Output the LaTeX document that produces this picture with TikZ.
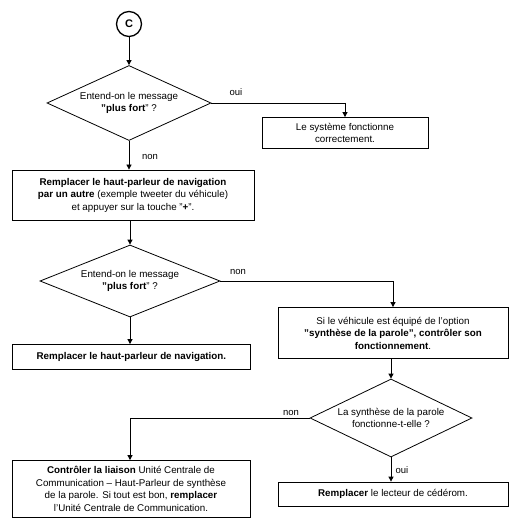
\documentclass[tikz,border=0pt]{standalone}
\usepackage{fontspec}
\setmainfont{Liberation Sans}
\usetikzlibrary{shapes.geometric,arrows.meta}
\begin{document}
\begin{tikzpicture}[x=1pt,y=-1pt,
  every node/.style={font=\fontsize{9.8}{12.5}\selectfont},
  box/.style={draw,line width=0.8pt,align=center,inner sep=2pt},
  dia/.style={draw,diamond,line width=0.8pt,inner sep=0pt},
  dtxt/.style={align=center,inner sep=0pt},
  lab/.style={font=\fontsize{9.5}{11}\selectfont},
  ar/.style={line width=0.8pt,-{Triangle[length=5pt,width=5pt]}},
  ln/.style={line width=0.8pt}]
\useasboundingbox (0,0) rectangle (514,529);
\node[circle,draw,line width=1.3pt,minimum size=25pt,inner sep=0pt,font=\bfseries\fontsize{11}{12}\selectfont] (c) at (129,24) {C};
\node[dia,minimum width=164pt,minimum height=75pt] (d1) at (129,103) {};
\node[dtxt] (t1) at (129,103) {Entend-on le message\\\textbf{"plus fort}" ?};
\node[box,minimum width=166pt,minimum height=31pt] (b1) at (345,133) {Le système fonctionne\\correctement.};
\node[box,minimum width=242pt,minimum height=50pt] (b2) at (133,195) {\textbf{Remplacer le haut-parleur de navigation}\\\textbf{par un autre} (exemple tweeter du véhicule)\\et appuyer sur la touche "\textbf{+}".};
\node[dia,minimum width=180pt,minimum height=72pt] (d2) at (130,281) {};
\node[dtxt] (t2) at (130,281) {Entend-on le message\\\textbf{"plus fort}" ?};
\node[box,minimum width=238pt,minimum height=25pt,anchor=west] (b4) at (12,357) {\textbf{Remplacer le haut-parleur de navigation.}};
\node[box,minimum width=230pt,minimum height=51pt] (b3) at (393,333) {Si le véhicule est équipé de l'option\\\textbf{"synthèse de la parole", contrôler son}\\\textbf{fonctionnement}.};
\node[dia,minimum width=162pt,minimum height=78pt] (d3) at (391,418) {};
\node[dtxt] (t3) at (391,418) {La synthèse de la parole\\fonctionne-t-elle ?};
\node[box,minimum width=238pt,minimum height=57pt] (b5) at (131,489) {\textbf{Contrôler la liaison} Unité Centrale de\\Communication -- Haut-Parleur de synthèse\\de la parole. Si tout est bon, \textbf{remplacer}\\l'Unité Centrale de Communication.};
\node[box,minimum width=230pt,minimum height=24pt] (b6) at (393,494) {\textbf{Remplacer} le lecteur de cédérom.};
\coordinate (k1) at (345,103);
\coordinate (k2) at (393,281);
\coordinate (k3) at (130,422);
\draw[ar] (c) -- (d1);
\draw[ln] (d1.east) -- (k1);
\draw[ar] (k1) -- (b1.north);
\node[lab] (oui1) at (236,92) {oui};
\draw[ar] (d1.south) -- (b2.north -| d1.south);
\node[lab] (non1) at (150,157) {non};
\draw[ar] (b2.south -| d2.north) -- (d2.north);
\draw[ar] (d2.south) -- (d2.south |- b4.north);
\draw[ln] (d2.east) -- (k2);
\draw[ar] (k2) -- (b3.north);
\node[lab] (non2) at (238,272) {non};
\draw[ar] (b3.south -| d3.north) -- (d3.north);
\draw[ln] (d3.west) -- (k3 |- d3.west);
\draw[ar] (k3 |- d3.west) -- (b5.north -| k3);
\node[lab] (non3) at (291,413) {non};
\draw[ar] (d3.south) -- (d3.south |- b6.north);
\node[lab] (oui3) at (402,470) {oui};
\end{tikzpicture}
\end{document}
